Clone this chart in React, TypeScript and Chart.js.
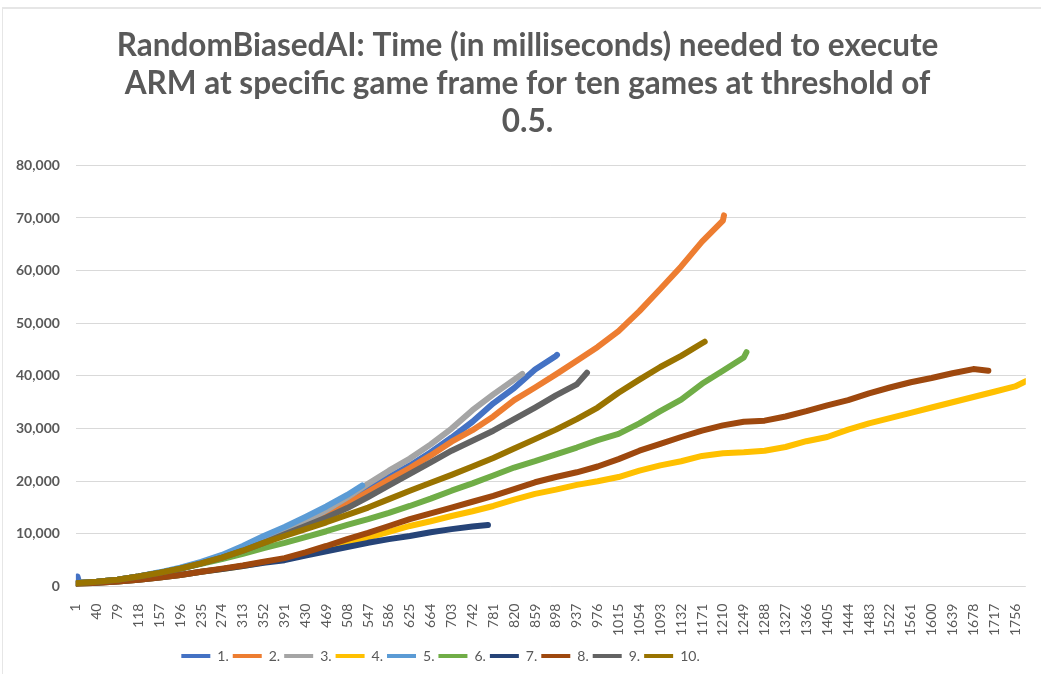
import { useEffect, useRef } from "react";
import { Chart, registerables } from "chart.js";

Chart.register(...registerables);

const tickFrames = [1, 40, 79, 118, 157, 196, 235, 274, 313, 352, 391, 430, 469, 508, 547, 586, 625, 664, 703, 742, 781, 820, 859, 898, 937, 976, 1015, 1054, 1093, 1132, 1171, 1210, 1249, 1288, 1327, 1366, 1405, 1444, 1483, 1522, 1561, 1600, 1639, 1678, 1717, 1756];

const seriesNames = ["1.", "2.", "3.", "4.", "5.", "6.", "7.", "8.", "9.", "10."];
const seriesColors = ["#4472C4", "#ED7D31", "#A5A5A5", "#FFC000", "#5B9BD5", "#70AD47", "#264478", "#9E480E", "#636363", "#997300"];

// early spike of game 1 (frames and values)
const game1SpikeFrames = [2, 4, 7];
const game1SpikeValues = [700, 1900, 750];

const game1 = [700, 900, 1300, 1900, 2600, 3400, 4400, 5600, 7000, 8600, 10300, 12100, 14100, 16300, 18500, 20800, 23000, 25500, 28300, 31300, 34800, 37700, 41200, 43800];
const game2 = [600, 900, 1300, 1900, 2600, 3400, 4400, 5500, 6900, 8400, 10000, 11800, 13700, 15800, 18000, 20300, 22500, 24900, 27500, 29700, 32300, 35400, 37800, 40300, 42900, 45500, 48500, 52300, 56500, 60800, 65500, 69500];
const game3 = [600, 900, 1300, 1900, 2600, 3400, 4400, 5600, 7000, 8700, 10400, 12300, 14500, 16900, 19500, 22000, 24300, 27000, 30000, 33500, 36500, 39300];
const game4 = [500, 700, 950, 1300, 1700, 2200, 2800, 3300, 3900, 4600, 5200, 6100, 7000, 8200, 9300, 10400, 11500, 12400, 13400, 14300, 15300, 16500, 17600, 18400, 19300, 20000, 20800, 22000, 23000, 23800, 24800, 25300, 25500, 25800, 26500, 27600, 28400, 29800, 31000, 32000, 33000, 34000, 35000, 36000, 37000, 38000];
const game5 = [600, 900, 1300, 1900, 2700, 3600, 4700, 6000, 7700, 9600, 11300, 13200, 15200, 17400];
const game6 = [600, 900, 1300, 1900, 2600, 3400, 4300, 5200, 6200, 7300, 8300, 9400, 10500, 11700, 12800, 14000, 15300, 16700, 18200, 19600, 21100, 22600, 23800, 25100, 26400, 27800, 29000, 31000, 33300, 35500, 38500, 41000, 43500];
const game7 = [500, 700, 950, 1300, 1700, 2200, 2800, 3300, 3900, 4500, 5000, 5900, 6700, 7500, 8300, 9000, 9600, 10300, 10900, 11400];
const game8 = [500, 700, 950, 1300, 1700, 2200, 2800, 3400, 4000, 4700, 5400, 6500, 7700, 9000, 10200, 11500, 12800, 13900, 15000, 16100, 17200, 18500, 19800, 20800, 21700, 22800, 24200, 25800, 27100, 28400, 29600, 30600, 31300, 31500, 32300, 33300, 34400, 35400, 36700, 37800, 38800, 39600, 40500, 41300];
const game9 = [600, 900, 1300, 1900, 2600, 3400, 4400, 5500, 6800, 8300, 9900, 11500, 13100, 14900, 17000, 19200, 21400, 23600, 25800, 27700, 29600, 31800, 34000, 36300, 38400];
const game10 = [600, 900, 1300, 1900, 2600, 3400, 4400, 5500, 6800, 8300, 9600, 10900, 12200, 13600, 15000, 16600, 18200, 19700, 21200, 22800, 24400, 26200, 28000, 29800, 31800, 34000, 36800, 39300, 41700, 43800, 46200];

const endFrames = [900, 1212, 835, 1776, 536, 1254, 771, 1706, 956, 1176];
const endValues = [44000, 70500, 40400, 39000, 19200, 44500, 11700, 41000, 40600, 46500];

const yTicks = [0, 10000, 20000, 30000, 40000, 50000, 60000, 70000, 80000];

const titleLines = [
  "RandomBiasedAI: Time (in milliseconds) needed to execute",
  "ARM at specific game frame for ten games at threshold of",
  "0.5.",
];

const allGames = [game1, game2, game3, game4, game5, game6, game7, game8, game9, game10];

const shiftBlocks = {
  id: "shiftBlocks",
  afterLayout(chart: any) {
    if (chart.titleBlock) {
      chart.titleBlock.left += 11;
      chart.titleBlock.right += 11;
    }
    if (chart.legend) {
      chart.legend.left -= 76;
      chart.legend.right -= 76;
    }
  },
};

export default function App() {
  const ref = useRef<HTMLCanvasElement | null>(null);

  useEffect(() => {
    if (!ref.current) return;
    const datasets = allGames.map((vals, i) => {
      const pts = vals.map((v, j) => ({ x: tickFrames[j], y: v }));
      if (i === 0) {
        const spike = game1SpikeFrames.map((f, k) => ({ x: f, y: game1SpikeValues[k] }));
        pts.splice(1, 0, ...spike);
      }
      pts.push({ x: endFrames[i], y: endValues[i] });
      return {
        label: seriesNames[i],
        data: pts,
        borderColor: seriesColors[i],
        backgroundColor: seriesColors[i],
        borderWidth: 6,
        borderJoinStyle: "round" as const,
        borderCapStyle: "round" as const,
        pointRadius: 0,
        tension: 0,
        order: 10 - i,
      };
    });

    const chart = new Chart(ref.current, {
      type: "line",
      data: { datasets },
      plugins: [shiftBlocks],
      options: {
        animation: false,
        responsive: false,
        layout: { padding: { left: 0, right: 8, top: 27, bottom: 1 } },
        plugins: {
          title: {
            display: true,
            text: titleLines,
            color: "#595959",
            font: { family: "Lato", size: 31.5, weight: "bold", lineHeight: 1.21 },
            padding: { top: 0, bottom: 24 },
          },
          legend: {
            position: "bottom",
            labels: {
              color: "#595959",
              font: { family: "Lato", size: 14 },
              boxWidth: 29,
              boxHeight: 4,
              padding: 4,
              sort: (a: any, b: any) => a.datasetIndex - b.datasetIndex,
              generateLabels: (c: any) =>
                Chart.defaults.plugins.legend.labels
                  .generateLabels(c)
                  .map((l: any) => ({ ...l, lineWidth: 0 })),
            },
          },
          tooltip: { enabled: false },
        },
        scales: {
          x: {
            type: "linear",
            min: 1,
            max: 1776,
            grid: { display: false },
            border: { display: false },
            afterBuildTicks: (scale: any) => {
              scale.ticks = tickFrames.map((v) => ({ value: v }));
            },
            ticks: {
              autoSkip: false,
              minRotation: 90,
              maxRotation: 90,
              padding: 9,
              color: "#595959",
              font: { family: "Lato", size: 14 },
              callback: (v: any) => String(v),
            },
          },
          y: {
            min: 0,
            max: 80000,
            afterBuildTicks: (scale: any) => {
              scale.ticks = yTicks.map((v) => ({ value: v }));
            },
            grid: { color: "#D9D9D9", lineWidth: 1, drawTicks: false },
            border: { display: false },
            ticks: {
              padding: 16,
              color: "#595959",
              font: { family: "Lato", size: 14, weight: "bold" },
              callback: (v: any) => Number(v).toLocaleString("en-US"),
            },
          },
        },
      },
    });
    return () => chart.destroy();
  }, []);

  return (
    <div style={{ position: "absolute", left: 0, top: 0, width: 1041, height: 674, background: "#fff", overflow: "hidden" }}>
      <div
        style={{
          position: "absolute",
          left: 2,
          top: 7,
          width: 1050,
          height: 700,
          borderTop: "2px solid #E6E6E6",
          borderLeft: "1px solid #E6E6E6",
        }}
      />
      <canvas ref={ref} width={1041} height={674} style={{ position: "absolute", left: 0, top: 0, width: 1041, height: 674 }} />
    </div>
  );
}
